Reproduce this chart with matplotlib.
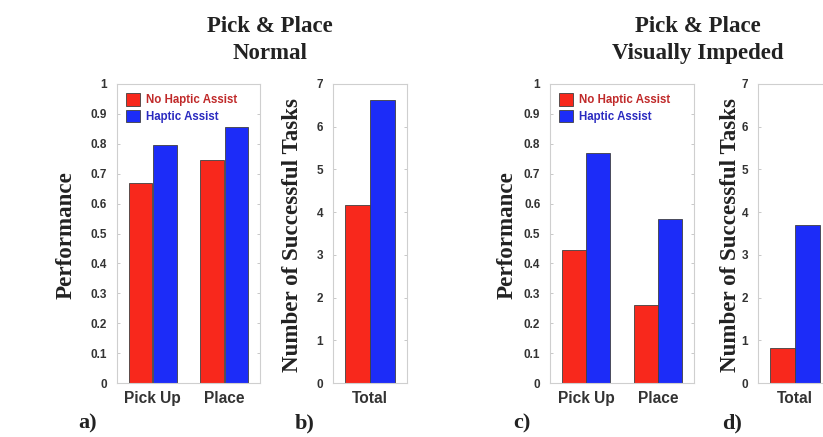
import matplotlib
matplotlib.use("Agg")
import matplotlib.pyplot as plt
import numpy as np

# ---- data ----
task_labels = ["Pick Up", "Place"]
total_label = ["Total"]
series_names = ["No Haptic Assist", "Haptic Assist"]

normal_no_assist = [0.67, 0.745]
normal_assist = [0.795, 0.855]
normal_total_no_assist = [4.17]
normal_total_assist = [6.63]

impeded_no_assist = [0.445, 0.26]
impeded_assist = [0.77, 0.55]
impeded_total_no_assist = [0.82]
impeded_total_assist = [3.71]

perf_ticks = [0, 0.1, 0.2, 0.3, 0.4, 0.5, 0.6, 0.7, 0.8, 0.9, 1]
perf_ticklabels = ["0", "0.1", "0.2", "0.3", "0.4", "0.5", "0.6", "0.7", "0.8", "0.9", "1"]
count_ticks = [0, 1, 2, 3, 4, 5, 6, 7]

titles = ["Pick & Place\nNormal", "Pick & Place\nVisually Impeded"]
panel_labels = ["a)", "b)", "c)", "d)"]

RED = "#f8281c"
BLUE = "#1c2cf8"
SERIF = ["Liberation Serif", "DejaVu Serif"]
SANS = ["Liberation Sans", "DejaVu Sans"]

W, H = 823, 437
fig = plt.figure(figsize=(W / 100, H / 100), dpi=100)


def px_axes(left, top, right, bottom):
    return fig.add_axes([left / W, 1 - bottom / H, (right - left) / W, (bottom - top) / H])


def style_axes(ax):
    for s in ax.spines.values():
        s.set_color("#cfcfcf")
        s.set_linewidth(0.8)
    ax.tick_params(axis="both", direction="in", length=2.5, color="#c8c8c8",
                   labelcolor="#333333", right=True, top=False, width=0.7)
    ax.tick_params(axis="y", pad=7)
    ax.tick_params(axis="x", length=0, pad=6)


def bars(ax, cats, a_vals, b_vals, ylim, yticks, yticklabels, legend):
    x = np.arange(1, len(cats) + 1)
    w = 0.33
    ax.bar(x - 0.17, a_vals, w, color=RED, edgecolor="#404040", linewidth=0.6,
           label=series_names[0], zorder=2)
    ax.bar(x + 0.17, b_vals, w, color=BLUE, edgecolor="#404040", linewidth=0.6,
           label=series_names[1], zorder=2)
    ax.set_xlim(0.5, len(cats) + 0.5)
    ax.set_ylim(*ylim)
    ax.set_xticks(x)
    ax.set_xticklabels(cats, fontfamily=SANS, fontweight="bold", fontsize=11.2)
    ax.set_yticks(yticks)
    ax.set_yticklabels(yticklabels, fontfamily=SANS, fontweight="bold", fontsize=8.5)
    style_axes(ax)
    if legend:
        leg = ax.legend(loc="upper left", frameon=False,
                        handlelength=1.2, handleheight=1.3, handletextpad=0.55,
                        labelspacing=0.3, borderaxespad=0.45, borderpad=0.35,
                        prop={"family": SANS, "weight": "bold", "size": 8.3})
        leg.get_texts()[0].set_color("#c02a2a")
        leg.get_texts()[1].set_color("#2a2ac0")


ax_a = px_axes(116.7, 84, 260, 383)
bars(ax_a, task_labels, normal_no_assist, normal_assist, (0, 1), perf_ticks, perf_ticklabels, True)
ax_b = px_axes(333, 84, 407, 383)
bars(ax_b, total_label, normal_total_no_assist, normal_total_assist, (0, 7), count_ticks,
     [str(t) for t in count_ticks], False)
ax_c = px_axes(550, 84, 694, 383)
bars(ax_c, task_labels, impeded_no_assist, impeded_assist, (0, 1), perf_ticks, perf_ticklabels, True)
ax_d = px_axes(758, 84, 832, 383)
bars(ax_d, total_label, impeded_total_no_assist, impeded_total_assist, (0, 7), count_ticks,
     [str(t) for t in count_ticks], False)

# y labels
for xp, txt in [(66, "Performance"), (293, "Number of Successful Tasks"),
                (507, "Performance"), (730, "Number of Successful Tasks")]:
    fig.text(xp / W, 1 - 235 / H, txt, rotation=90, ha="center", va="center",
             fontfamily=SERIF, fontweight="bold", fontsize=16.6, color="#222222")

# titles
for xp, txt in [(270, titles[0]), (698, titles[1])]:
    fig.text(xp / W, 1 - 40 / H, txt, ha="center", va="center", linespacing=1.42,
             fontfamily=SERIF, fontweight="bold", fontsize=16.5, color="#222222")

# panel labels
for xp, txt in zip([88, 305, 522, 732], panel_labels):
    fig.text(xp / W, 1 - 423 / H, txt, ha="center", va="center",
             fontfamily=SERIF, fontweight="bold", fontsize=16, color="#222222")

fig.savefig("out.png", dpi=100)
